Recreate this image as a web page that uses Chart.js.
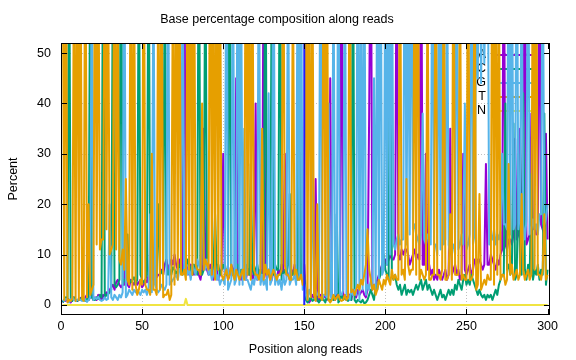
<!DOCTYPE html>
<html>
<head>
<meta charset="utf-8">
<script src="https://cdn.jsdelivr.net/npm/chart.js@4.4.1/dist/chart.umd.min.js"></script>
<style>
  html, body { margin: 0; padding: 0; background: #fff; }
  #wrap { width: 576px; height: 360px; }
</style>
</head>
<body>
<div id="wrap"><canvas id="chart" width="576" height="360"></canvas></div>
<script>
// Percent of each base at read positions 1..300
const pctA = [
  0.5, 1, 0.8, 1.2, 1, 0.5, 1, 1.5, 1, 0.8,
  1, 1.4, 1.2, 1, 1.5, 2, 1, 1.5, 2, 1,
  1.5, 1, 2, 1.5, 1, 2, 1.5, 2.5, 2, 3,
  3.5, 4, 3, 4.5, 5, 4, 3.5, 4, 4, 15,
  4, 3.5, 5, 4.5, 4, 5, 4, 4.5, 5, 3.5,
  4, 5, 4.5, 6, 5, 15, 5, 6, 5.5, 6,
  6, 7, 6, 8, 9, 7, 8, 9, 8, 10,
  8, 7, 9, 8, 7, 78, 8, 7, 6, 8,
  7, 6, 8, 7, 6, 5, 7, 35, 8, 7,
  6, 8, 7, 5, 6, 7, 5, 6, 7, 30,
  6, 7, 5, 6, 8, 7, 6, 45, 7, 6,
  5, 7, 6, 5, 7, 6, 8, 5, 6, 40,
  5, 6, 7, 6, 80, 7, 5, 7, 6, 5,
  7, 6, 5, 7, 6, 8, 5, 30, 7, 6,
  5, 7, 6, 8, 7, 6, 6, 7, 6, 8,
  2, 1, 0.5, 1, 2, 1.5, 25, 0.8, 1, 2,
  1, 1.5, 2, 1, 2.5, 45, 2, 1.5, 1, 2,
  2, 1, 86, 1.5, 2, 1, 2, 2, 1, 3,
  2, 1.5, 3, 2, 2.5, 3, 2, 1.5, 3, 38,
  84, 3, 4, 4, 5, 6, 7, 8, 7, 9,
  8, 9, 10, 9, 9, 10, 81, 10, 9, 11,
  10, 11, 11, 10, 8, 9, 10, 11, 9, 10,
  9, 87, 8, 8, 30, 7, 8, 6, 7, 5,
  6, 5, 7, 6, 5, 6, 7, 5, 6, 35,
  6, 7, 8, 6, 7, 5, 6, 30, 7, 6,
  7, 8, 6, 7, 9, 8, 9, 9, 8, 7,
  8, 28, 8, 8, 10, 9, 8, 7, 9, 8,
  10, 11, 83, 12, 11, 13, 13, 12, 14, 33,
  13, 14, 35, 15, 15, 85, 12, 13, 14, 38,
  15, 16, 14, 15, 79, 16, 15, 14, 34, 13
];

const pctC = [
  0.5, 1, 1.5, 1, 79, 1, 0.8, 1.5, 1, 0.8,
  1, 1.2, 1.5, 1, 0.8, 1.2, 1, 74, 1.5, 1,
  1, 1.5, 1.2, 2, 1.5, 85, 1.5, 2, 2.2, 2.5,
  3, 70, 4, 3.5, 4, 5, 91, 4, 5, 5,
  14, 5, 4.5, 5, 5.5, 4, 5, 76, 6, 5,
  4.5, 5, 6, 83, 5.5, 6, 5, 6, 6, 20,
  7, 6.5, 6, 72, 8, 6, 7, 6, 7.5, 7,
  6, 7, 8, 7, 6, 8, 7, 9, 8, 7,
  6, 8, 7, 6, 87, 6.5, 6, 7, 78, 8,
  7, 6, 7.5, 7, 18, 7, 8, 6, 7, 8,
  7, 6, 8, 81, 6.5, 6, 7, 7.5, 8, 6,
  7, 7, 6, 8, 7, 6, 28, 7, 6, 7,
  8, 6, 7, 5, 6, 84, 7, 7, 5, 73,
  6, 8, 7, 7, 89, 5, 6, 7, 6, 8,
  22, 6, 6, 7, 6, 5, 76, 6, 5, 6,
  1, 0.5, 1, 1.5, 0.8, 1, 2, 1, 0.5, 1,
  1.5, 1, 0.5, 2, 1, 0.8, 1.2, 1, 1.5, 18,
  0.5, 1, 2, 1, 1.5, 1, 0.8, 1.2, 1, 82,
  1, 0.5, 1, 0.8, 0.5, 1, 0.3, 0.5, 1, 2,
  3, 2, 1, 4, 3, 5, 6, 8, 10, 7,
  6, 5, 80, 6, 5, 6, 4, 3, 4, 2,
  3, 4, 2, 3, 2.5, 3, 2, 3, 4, 3,
  4, 5, 3, 4, 5, 3, 4, 3, 2, 3,
  2, 1, 2, 3, 1.5, 2, 1, 2, 3, 2,
  3, 2, 4, 3, 5, 4, 3, 5, 6, 4,
  5, 4, 6, 5, 4, 3, 2, 3, 2, 1.5,
  2, 1, 2, 1.5, 2, 1, 2, 3, 2, 4,
  5, 6, 6, 40, 7, 8, 6, 7, 36, 5,
  6, 30, 8, 6, 42, 7, 5, 8, 6, 26,
  5, 7, 6, 8, 5, 7, 6, 38, 4, 7
];

const pctG = [
  1, 0.8, 1.2, 1, 0.5, 1, 1.5, 1, 0.8, 1,
  1.2, 1, 0.8, 1.5, 1, 0.6, 1, 1.5, 76, 1,
  1.4, 1.2, 1.6, 1, 0.8, 1, 1.5, 1, 1.2, 20,
  1.5, 1, 2, 1.5, 1, 2, 1.5, 2.5, 84, 1.5,
  2, 3, 2.5, 2, 3, 2.5, 3, 2.5, 2, 3,
  2.5, 3, 2, 3.5, 18, 2.5, 70, 4, 3, 2.5,
  3, 4, 3.5, 3, 4, 81, 4, 4.5, 5, 5.5,
  6, 5, 7, 7, 73, 6.5, 8, 6, 7, 5,
  8, 7, 6, 9, 8, 7, 25, 8, 7, 9,
  6, 7, 5, 6, 8, 5, 6, 4, 5, 5,
  4, 86, 3, 4, 5, 78, 4, 5, 90, 4,
  72, 4, 35, 5, 5, 4, 3, 5, 4, 6,
  5, 80, 4, 6, 4, 5, 3, 42, 4, 5,
  88, 4, 6, 4, 5, 3, 6, 4, 5, 75,
  4, 5, 5, 6, 4, 83, 5, 79, 3, 4,
  2, 1, 3, 2, 30, 2, 3, 2, 2, 87,
  1, 2, 2, 1.5, 40, 2, 1, 70, 2, 2.5,
  85, 2, 2, 3, 78, 2, 2, 1, 3, 2,
  3, 2, 92, 1, 69, 3, 80, 2, 4, 3,
  5, 4, 45, 3, 73, 5, 88, 6, 7, 75,
  8, 84, 10, 77, 12, 11, 13, 14, 12, 13,
  13, 90, 12, 71, 14, 86, 15, 16, 14, 13,
  12, 14, 38, 13, 12, 14, 13, 12, 83, 12,
  12, 10, 72, 11, 88, 12, 13, 74, 12, 10,
  11, 12, 10, 85, 11, 12, 14, 12, 40, 11,
  12, 14, 79, 12, 14, 60, 45, 90, 44, 71,
  48, 66, 84, 12, 14, 13, 15, 12, 14, 13,
  15, 30, 16, 16, 15, 83, 14, 77, 15, 16,
  91, 15, 18, 70, 16, 13, 17, 85, 14, 15,
  17, 15, 16, 14, 18, 18, 76, 16, 17, 20
];

const pctT = [
  78, 1, 85, 0.5, 1, 0.8, 1.2, 72, 0.8, 88,
  1, 80, 1.2, 0.8, 90, 1.5, 20, 2, 3, 4,
  82, 12, 77, 11, 13, 13, 86, 15, 70, 10,
  11, 12, 92, 11, 64, 9, 8, 11, 7, 25,
  5, 4, 81, 3, 75, 4, 2, 3, 5, 4,
  87, 4, 3, 3, 2, 30, 3, 3, 2, 73,
  3, 80, 1.5, 2, 2, 3, 1, 2, 69, 4,
  84, 5, 76, 6, 6, 7, 5, 71, 7, 88,
  6, 79, 8, 7, 7, 6, 40, 7, 9, 8,
  7, 93, 6, 70, 5, 85, 7, 77, 6, 5,
  6, 7, 5, 6, 8, 6, 5, 7, 6, 5,
  6, 7, 5, 90, 6, 82, 5, 74, 7, 6,
  6, 5, 7, 35, 5, 8, 6, 7, 5, 6,
  7, 6, 5, 6, 6, 7, 89, 8, 6, 6,
  5, 5, 68, 6, 7, 5, 5, 6, 4, 5,
  83, 1, 80, 1.5, 72, 2, 0.8, 20, 1.5, 1.5,
  1, 91, 2, 76, 1, 0.5, 1, 2, 1, 1.5,
  2, 1, 0.8, 1, 2, 1, 1.5, 87, 2.5, 3,
  2, 3, 4, 3, 5, 4, 6, 8, 15, 7,
  5, 3, 4, 2, 3, 5, 4, 3, 5, 4,
  6, 5, 4, 7, 5, 6, 5, 5, 86, 6,
  7, 5, 25, 8, 6, 7, 7, 75, 6, 90,
  5, 7, 6, 5, 6, 67, 5, 5, 6, 6,
  86, 6, 6, 5, 7, 78, 5, 5, 6, 18,
  5, 84, 6, 6, 6, 72, 5, 6, 5, 5,
  87, 5, 5, 6, 75, 3, 4, 22, 3, 4,
  5, 4, 6, 5, 5, 91, 4, 80, 6, 68,
  5, 6, 6, 4, 5, 28, 6, 8, 5, 6,
  7, 5, 6, 22, 7, 5, 6, 7, 5, 6,
  82, 7, 77, 6, 6, 5, 7, 18, 5, 6
];

const pctN = [
  0, 0, 0, 0, 0, 0, 0, 0, 0, 0,
  0, 0, 0, 0, 0, 0, 0, 0, 0, 0,
  0, 0, 0, 0, 0, 0, 0, 0, 0, 0,
  0, 0, 0, 0, 0, 0, 0, 0, 0, 0,
  0, 0, 0, 0, 0, 0, 0, 0, 0, 0,
  0, 0, 0, 0, 0, 0, 0, 0, 0, 0,
  0, 0, 0, 0, 0, 0, 0, 0, 0, 0,
  0, 0, 0, 0, 0, 0, 1.2, 0, 0, 0,
  0, 0, 0, 0, 0, 0, 0, 0, 0, 0,
  0, 0, 0, 0, 0, 0, 0, 0, 0, 0,
  0, 0, 0, 0, 0, 0, 0, 0, 0, 0,
  0, 0, 0, 0, 0, 0, 0, 0, 0, 0,
  0, 0, 0, 0, 0, 0, 0, 0, 0, 0,
  0, 0, 0, 0, 0, 0, 0, 0, 0, 0,
  0, 0, 0, 0, 0, 0, 0, 0, 0, 0,
  0, 0, 0, 0, 0, 0, 0, 0, 0, 0,
  0, 0, 0, 0, 0, 0, 0, 0, 0, 0,
  0, 0, 0, 0, 0, 0, 0, 0, 0, 0,
  0, 0, 0, 0, 0, 0, 0, 0, 0, 0,
  0, 0, 0, 0, 0, 0, 0, 0, 0, 0,
  0, 0, 0, 0, 0, 0, 0, 0, 0, 0,
  0, 0, 0, 0, 0, 0, 0, 0, 0, 0,
  0, 0, 0, 0, 0, 0, 0, 0, 0, 0,
  0, 0, 0, 0, 0, 0, 0, 0, 0, 0,
  0, 0, 0, 0, 0, 0, 0, 0, 0, 0,
  0, 0, 0, 0, 0, 0, 0, 0, 0, 0,
  0, 0, 0, 0, 0, 0, 0, 0, 0, 0,
  0, 0, 0, 0, 0, 0, 0, 0, 0, 0,
  0, 0, 0, 0, 0, 0, 0, 0, 0, 0,
  0, 0, 0, 0, 0, 0, 0, 0, 0, 0
];

// Read boundary marker (vertical line at position 150)
const splitPos = 150;
const splitRange = [0, 100];

const xTicks = [0, 50, 100, 150, 200, 250, 300];
const yTicks = [0, 10, 20, 30, 40, 50];

const positions = pctA.map((_, i) => i + 1);

const SERIES = [
  { label: "A", color: "#9400d3", values: pctA },
  { label: "C", color: "#009e73", values: pctC },
  { label: "G", color: "#56b4e9", values: pctG },
  { label: "T", color: "#e69f00", values: pctT },
  { label: "N", color: "#f0e442", values: pctN },
];

const FONT = '12.5px "Liberation Sans", Arial, sans-serif';

// gnuplot draws later series on top -> give later series a lower order
const datasets = SERIES.map((s, i) => ({
  label: s.label,
  data: s.values.map((v, j) => ({ x: positions[j], y: v })),
  borderColor: s.color,
  borderWidth: 2,
  pointRadius: 0,
  tension: 0,
  fill: false,
  clip: 0,
  borderJoinStyle: "round",
  order: 10 - i,
}));

datasets.push({
  label: "split",
  data: splitRange.map((v) => ({ x: splitPos, y: v })),
  borderColor: "#1f1fff",
  borderWidth: 2,
  pointRadius: 0,
  fill: false,
  clip: 0,
  order: 0,
});

// Grid, key, frame, ticks and texts in the gnuplot look
const gnuplotFrame = {
  id: "gnuplotFrame",
  beforeDatasetsDraw(chart) {
    const { ctx, chartArea: a, scales } = chart;
    const x = scales.x, y = scales.y;
    ctx.save();
    ctx.strokeStyle = "#c0c0c0";
    ctx.lineWidth = 1;
    ctx.setLineDash([1, 2]);
    xTicks.forEach((v) => {
      if (v <= 0 || v >= 300) return;
      const px = Math.round(x.getPixelForValue(v)) + 0.5;
      ctx.beginPath(); ctx.moveTo(px, a.top); ctx.lineTo(px, a.bottom); ctx.stroke();
    });
    yTicks.forEach((v) => {
      const py = Math.round(y.getPixelForValue(v)) + 0.5;
      ctx.beginPath(); ctx.moveTo(a.left, py); ctx.lineTo(a.right, py); ctx.stroke();
    });
    ctx.setLineDash([]);

    // key (drawn under the data, like the reference)
    ctx.font = FONT;
    ctx.fillStyle = "#000";
    ctx.textAlign = "right";
    ctx.textBaseline = "middle";
    SERIES.forEach((s, i) => {
      const ky = 55 + i * 14;
      ctx.fillText(s.label, 486, ky);
      ctx.strokeStyle = s.color;
      ctx.lineWidth = 2;
      ctx.beginPath(); ctx.moveTo(494, ky); ctx.lineTo(534, ky); ctx.stroke();
    });
    ctx.restore();
  },
  afterDatasetsDraw(chart) {
    const { ctx, chartArea: a, scales } = chart;
    const x = scales.x, y = scales.y;
    ctx.save();
    ctx.strokeStyle = "#000";
    ctx.lineWidth = 1;
    const T = 6;
    xTicks.forEach((v) => {
      const px = Math.round(x.getPixelForValue(v)) + 0.5;
      ctx.beginPath();
      ctx.moveTo(px, a.bottom); ctx.lineTo(px, a.bottom - T);
      ctx.moveTo(px, a.top); ctx.lineTo(px, a.top + T);
      ctx.stroke();
    });
    yTicks.forEach((v) => {
      const py = Math.round(y.getPixelForValue(v)) + 0.5;
      ctx.beginPath();
      ctx.moveTo(a.left, py); ctx.lineTo(a.left + T, py);
      ctx.moveTo(a.right, py); ctx.lineTo(a.right - T, py);
      ctx.stroke();
    });
    ctx.strokeRect(a.left + 0.5, a.top + 0.5, a.right - a.left - 1, a.bottom - a.top - 1);

    ctx.font = FONT;
    ctx.fillStyle = "#000";
    ctx.textBaseline = "middle";
    ctx.textAlign = "right";
    yTicks.forEach((v) => ctx.fillText(String(v), a.left - 10, y.getPixelForValue(v)));
    ctx.textAlign = "center";
    xTicks.forEach((v) => ctx.fillText(String(v), x.getPixelForValue(v), 327));

    ctx.fillText("Base percentage composition along reads", 277, 20);
    ctx.fillText("Position along reads", (a.left + a.right) / 2, 350);
    ctx.translate(14, (a.top + a.bottom) / 2);
    ctx.rotate(-Math.PI / 2);
    ctx.fillText("Percent", 0, 0);
    ctx.restore();
  },
};

new Chart(document.getElementById("chart"), {
  type: "line",
  data: { datasets },
  options: {
    responsive: false,
    animation: false,
    devicePixelRatio: 1,
    layout: { padding: { left: 61, right: 26, top: 43, bottom: 45 } },
    scales: {
      x: { type: "linear", min: 0, max: 301.5, display: false },
      y: { type: "linear", min: -2, max: 52, display: false },
    },
    plugins: {
      legend: { display: false },
      tooltip: { enabled: false },
    },
  },
  plugins: [gnuplotFrame],
});
</script>
</body>
</html>
